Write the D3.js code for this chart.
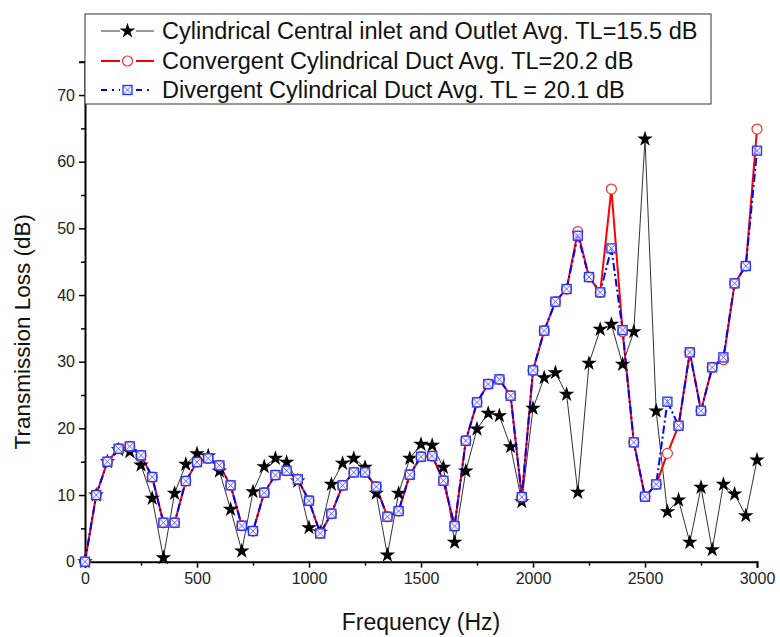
<!DOCTYPE html>
<html><head><meta charset="utf-8">
<script src="https://cdn.jsdelivr.net/npm/d3@7"></script>
<style>body{margin:0;background:#fff}svg{display:block}text{font-family:Arial,"Liberation Sans",sans-serif}</style>
</head><body><svg id="c" width="780" height="637"></svg>
<script>
const freq = [0,50,100,150,200,250,300,350,400,450,500,550,600,650,700,750,800,850,900,950,1000,1050,1100,1150,1200,1250,1300,1350,1400,1450,1500,1550,1600,1650,1700,1750,1800,1850,1900,1950,2000,2050,2100,2150,2200,2250,2300,2350,2400,2450,2500,2550,2600,2650,2700,2750,2800,2850,2900,2950,3000];
const cylindrical = [0,10.0,15.0,16.8,16.5,14.5,9.5,0.6,10.25,14.6,16.2,15.85,13.6,7.85,1.6,10.5,14.25,15.5,14.9,12.1,5.1,4.4,11.6,14.75,15.5,14.15,10.25,1.0,10.25,15.5,17.6,17.45,14.15,2.9,13.6,19.9,22.25,21.9,17.25,9.0,23.0,27.6,28.35,25.1,10.4,29.75,34.85,35.6,29.6,34.5,63.4,22.6,7.5,9.25,2.9,11.15,1.8,11.6,10.15,6.9,15.25];
const convergent = [0,10.0,15.0,16.95,17.3,15.95,12.7,5.85,5.85,12.1,14.95,15.5,14.45,11.45,5.4,4.6,10.35,13.0,13.65,12.35,9.15,4.25,7.2,11.45,13.4,13.4,11.25,6.75,7.6,13.05,15.75,15.85,12.15,5.35,18.15,23.9,26.65,27.35,24.9,9.7,28.7,34.65,39.0,40.9,49.5,42.7,40.4,55.9,34.5,17.9,9.75,11.6,16.25,20.4,31.4,22.65,29.15,30.3,41.75,44.35,64.9];
const divergent = [0,10.0,15.0,16.95,17.3,15.95,12.7,5.85,5.85,12.1,14.95,15.5,14.45,11.45,5.4,4.6,10.35,13.0,13.65,12.35,9.15,4.25,7.2,11.45,13.4,13.4,11.25,6.75,7.6,13.05,15.75,15.85,12.15,5.35,18.15,23.9,26.65,27.35,24.9,9.7,28.7,34.65,39.0,40.9,48.9,42.7,40.4,47.0,34.75,17.9,9.75,11.6,24.0,20.4,31.4,22.65,29.15,30.65,41.75,44.35,61.65];
const xTicks = [0,500,1000,1500,2000,2500,3000];
const yTicks = [0,10,20,30,40,50,60,70];
const legendLabels = ["Cylindrical Central inlet and Outlet Avg. TL=15.5 dB","Convergent Cylindrical Duct Avg. TL=20.2 dB","Divergent Cylindrical Duct Avg. TL = 20.1 dB"];
const xTitle = "Frequency (Hz)", yTitle = "Transmission Loss (dB)";

const svg = d3.select("#c");
const L=85, R=757, T=61.7, B=561.7;
const x = d3.scaleLinear().domain([0,3000]).range([L,R]);
const y = d3.scaleLinear().domain([0,75]).range([B,T]);

// axes
const xAxis = d3.axisBottom(x).tickValues(xTicks).tickSize(6).tickPadding(5).tickFormat(d3.format("d"));
svg.append("g").attr("transform",`translate(0,${B})`).call(xAxis);
const xMinor = d3.axisBottom(x).tickValues(d3.range(250,3000,500)).tickSize(4).tickFormat("");
svg.append("g").attr("transform",`translate(0,${B})`).call(xMinor).select(".domain").remove();
const yAxis = d3.axisLeft(y).tickValues(yTicks).tickSize(6).tickPadding(4);
svg.append("g").attr("transform",`translate(${L},0)`).call(yAxis);
const yMinor = d3.axisLeft(y).tickValues(d3.range(5,80,10)).tickSize(4).tickFormat("");
svg.append("g").attr("transform",`translate(${L},0)`).call(yMinor).select(".domain").remove();
svg.selectAll(".domain").attr("stroke","#000").attr("stroke-width",2);
svg.selectAll(".tick line").attr("stroke","#000").attr("stroke-width",1.5);
svg.selectAll(".tick text").attr("font-size",16).attr("fill","#222").attr("font-family","Arial, Liberation Sans, sans-serif");

// titles
svg.append("text").attr("x",(L+R)/2).attr("y",630).attr("text-anchor","middle").attr("font-size",23).attr("fill","#111").text(xTitle);
svg.append("text").attr("transform",`translate(30,${(T+B)/2+20}) rotate(-90)`).attr("text-anchor","middle").attr("font-size",22.5).attr("fill","#111").text(yTitle);

const pts = arr => freq.map((f,i)=>[x(f),y(arr[i])]);
const line = d3.line();
svg.append("path").attr("d",line(pts(cylindrical))).attr("fill","none").attr("stroke","#333").attr("stroke-width",1);
svg.append("path").attr("d",line(pts(convergent))).attr("fill","none").attr("stroke","#ff0000").attr("stroke-width",2);
svg.append("path").attr("d",line(pts(divergent))).attr("fill","none").attr("stroke","#0000ff").attr("stroke-width",2).attr("stroke-dasharray","8,3,2,3");

const star = d3.symbol().type(d3.symbolStar).size(75);
function drawStar(g,px,py){g.append("path").attr("d",star()).attr("transform",`translate(${px},${py})`).attr("fill","#000");}
function drawCircle(g,px,py){g.append("circle").attr("cx",px).attr("cy",py).attr("r",5).attr("fill","#fff").attr("stroke","#ff3030").attr("stroke-width",1.2);}
function drawSq(g,px,py){
  const s=4.5;
  g.append("rect").attr("x",px-s).attr("y",py-s).attr("width",2*s).attr("height",2*s).attr("fill","#eef0ff").attr("fill-opacity",0.6).attr("stroke","#2030ff").attr("stroke-width",1.3);
  g.append("path").attr("d",`M${px-s},${py-s}L${px+s},${py+s}M${px+s},${py-s}L${px-s},${py+s}`).attr("stroke","#5060ff").attr("stroke-width",0.9);
}
const gm = svg.append("g");
pts(cylindrical).forEach(p=>drawStar(gm,p[0],p[1]));
pts(convergent).forEach(p=>drawCircle(gm,p[0],p[1]));
pts(divergent).forEach(p=>drawSq(gm,p[0],p[1]));

// legend
const lg = svg.append("g");
lg.append("rect").attr("x",85).attr("y",14).attr("width",626).attr("height",90).attr("fill","#fff").attr("stroke","#333").attr("stroke-width",1);
const rows=[31,61,90];
lg.append("path").attr("d",`M101,${rows[0]}H120M136,${rows[0]}H154`).attr("stroke","#333").attr("stroke-width",1);
drawStar(lg,127.5,rows[0]);
lg.append("path").attr("d",`M101,${rows[1]}H120M136,${rows[1]}H154`).attr("stroke","#ff0000").attr("stroke-width",2);
drawCircle(lg,127.5,rows[1]);
lg.append("path").attr("d",`M101,${rows[2]}H120M136,${rows[2]}H154`).attr("stroke","#0000ff").attr("stroke-width",2).attr("stroke-dasharray","6,5,2,5");
drawSq(lg,127.5,rows[2]);
legendLabels.forEach((t,i)=>{
  lg.append("text").attr("x",162).attr("y",rows[i]+8).attr("font-size",23.5).attr("fill","#111").text(t);
});
</script></body></html>
